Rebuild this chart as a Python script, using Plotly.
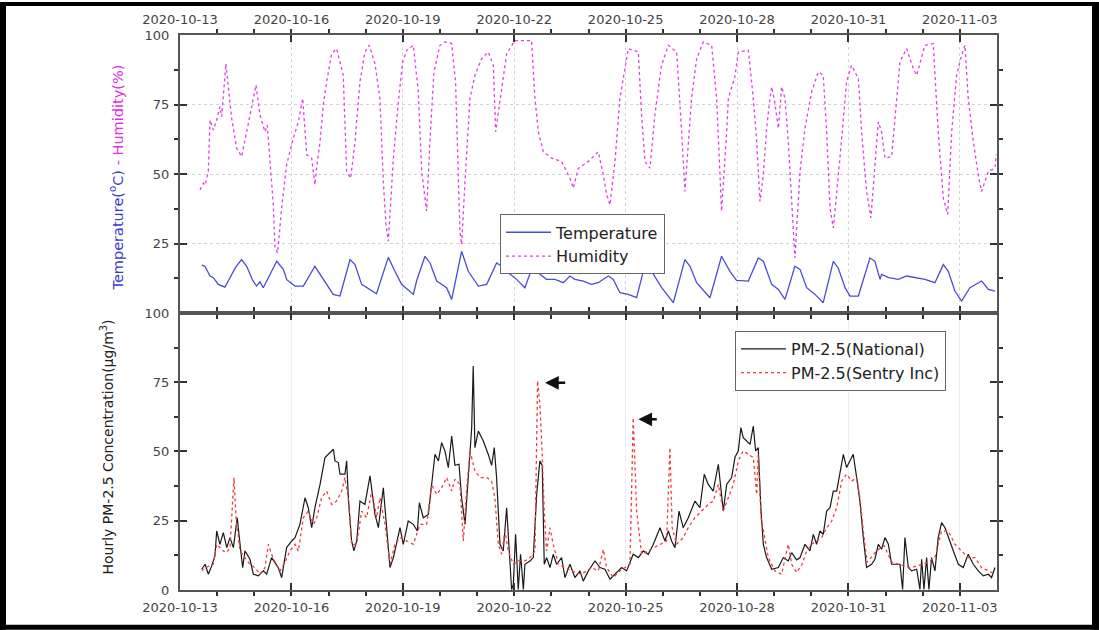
import pandas as pd
import plotly.graph_objects as go

# ---------------- data (hours after 2020-10-13 00:00, values) ----------------
start_time = "2020-10-13 00:00"

temp_hours = [14, 16, 19.4, 21.5, 24.8, 29, 32.3, 36, 39.8, 43.1, 47, 49.5, 51.7, 53.8, 57.1, 62.5, 66.8, 69,
              74.3, 79.7, 87.2, 92.6, 99, 103.4, 106.6, 109.9, 113.1, 117.4, 127, 130.3, 134.6, 138.9, 143.2,
              150.8, 152.9, 158.3, 161.6, 165.9, 172.3, 175.6, 182, 186.3, 192.8, 198.2, 204.6, 208, 212.2,
              217.5, 222.9, 228.3, 232.6, 236.9, 242.3, 247.7, 252, 255.2, 260.6, 266, 270.3, 276.8, 280,
              284.3, 289.7, 295.1, 300.5, 304.8, 311.3, 318.8, 326.3, 329.6, 333.9, 342.5, 350, 355.4, 359.7,
              367.3, 373.7, 377, 382.4, 386.7, 391, 397.4, 400.7, 405, 410.4, 415.7, 422.2, 425.4, 429.8, 433,
              438.4, 445.9, 449.1, 452.4, 453.4, 458, 464.2, 469.6, 476, 481.4, 487.9, 493.3, 496.5, 500.8,
              505.1, 510.5, 518.1, 522.4, 526.7]
temp_values = [17.2, 16.9, 13.3, 12.7, 10.3, 9.3, 12.7, 16.5, 19.2, 16.8, 11.7, 9.7, 11.2, 9.1, 12.7, 18.6, 15.7, 12,
               9.7, 9.7, 16.8, 12, 6.7, 6.1, 12.7, 19.2, 17.4, 10.3, 6.9, 12.7, 20, 15, 10.3,
               6.7, 11.5, 20.4, 18, 11.5, 9.1, 4.9, 22.2, 15, 9.7, 10.3, 18, 16.8, 14.5,
               12.1, 9.1, 17.4, 13.9, 12.1, 12.1, 10.9, 13.3, 12.1, 11.5, 10.3, 10.9, 13.3, 12.1,
               7.3, 6.7, 5.5, 17.4, 15, 9.1, 3.7, 19.2, 16.8, 10.9, 5.5, 20.4, 15, 11.7,
               11.5, 19.8, 18.6, 10.3, 8.5, 4.9, 16.8, 15.7, 9.1, 6.7, 3.7, 18.6, 16.2, 9.1, 6.1,
               6.1, 19.8, 18.6, 12.1, 13.9, 12.7, 12.1, 13.3, 12.7, 12.1, 10.9, 17.4, 15, 7.9,
               4.3, 9.1, 11.5, 8.5, 7.9]

hum_hours = [12.9, 15.1, 16.2, 18.3, 19.4, 21.5, 23.7, 25.8, 26.9, 28, 29.7, 31.2, 33.4, 36.6, 39.8, 43.1, 46.3,
             49.1, 51.7, 54.9, 56.4, 58.2, 60.3, 61.4, 63.1, 65.7, 68.9, 73.2, 76.5, 79.3, 81.9, 85.1, 87.2,
             88.3, 90.5, 92.6, 94.8, 98, 101.2, 105.5, 107.7, 110.3, 113.1, 116.3, 119.5, 122.3, 126, 129.2,
             131.4, 133.1, 134.6, 137.9, 141.1, 143.9, 146.5, 150.8, 154, 156.2, 159.4, 161.6, 164.1, 168,
             171.2, 175.5, 178.1, 180.9, 182, 184.2, 187.4, 190.6, 194.9, 199.2, 202.5, 204, 207.9, 211.1,
             216.5, 227.2, 229.4, 231.6, 234.8, 240.2, 246.6, 252, 254.2, 257.4, 263.9, 270.3, 273.6, 275.7,
             277.9, 281.1, 284.3, 287.6, 289.7, 296.2, 298.3, 300.5, 303.7, 306.9, 311.2, 315.6, 321, 324.2,
             326.3, 330.6, 333.9, 338.2, 343.6, 346.8, 350, 353.3, 354.4, 358.6, 360.8, 367.3, 370.5, 372.7,
             374.8, 377, 379.1, 381.3, 382.4, 384.5, 386.7, 388.8, 391, 393.1, 395.3, 397.4, 400.7, 403.9,
             408.2, 412.5, 415.7, 417.9, 420.1, 422.2, 426.5, 430.8, 434, 438.4, 440.5, 443.7, 446.5, 449.1,
             451.3, 453.4, 455.6, 459.9, 463.1, 465.3, 469.6, 473.9, 476.1, 481.4, 486.8, 490, 493.3, 496.1,
             498.7, 501.9, 505.1, 507.3, 509.4, 512.7, 515.9, 518, 522.4, 526.7, 527.5]
hum_values = [44.3, 46.7, 46, 50.9, 69.4, 65.8, 69.4, 74.2, 70.6, 79.6, 89.7, 81.4, 70, 59.3, 56.3, 65.2, 74.8,
              82, 71.2, 65.2, 67.6, 53.3, 38.9, 23.4, 21.6, 37.8, 53.3, 62.8, 68.8, 77.2, 56.9, 55.7, 46.1,
              52.1, 61.6, 74.8, 83.2, 93.3, 95.1, 85.5, 50.9, 48.5, 61.6, 83.2, 93.9, 96.3, 89.7, 77.2,
              47.3, 31.8, 25.8, 55.7, 76, 90.3, 94.5, 96.3, 79.6, 50.9, 36.6, 62.8, 86.7, 96.3,
              97.5, 97, 83, 29.4, 24.6, 47.3, 77.2, 85.5, 91.5, 93.9, 89, 65.2, 80.8, 93.3,
              98, 98, 77.2, 65.2, 58, 55.7, 54.5, 48.5, 44.9, 52, 54.5, 58, 49.7, 42.5,
              38.9, 54.5, 77.2, 89.1, 95.1, 93.9, 71.2, 54.5, 52.1, 71.2, 89.1, 96.3, 93.9, 65.2,
              43.7, 77.2, 91.5, 97.5, 96.3, 77.2, 36.6, 65.2, 77.2, 85, 93.9, 94.5, 77.2, 61.6,
              40.1, 49.7, 66.4, 77.2, 81.4, 75.4, 66.4, 81.4, 77.2, 61.6, 37.8, 19.8, 50.9, 66.4,
              79.6, 86.7, 85.5, 65.2, 37.8, 30.6, 55.7, 83.2, 89.1, 84.3, 65.2, 43.7, 34.2, 53.3,
              68.8, 65.2, 55.7, 56.3, 74.8, 90.3, 95.1, 87.9, 85.5, 96.3, 96.9, 65.2, 41.3, 35.4,
              65.2, 85.5, 92.7, 96.3, 77.2, 61.6, 49.7, 43.7, 50.9, 52.1, 57]

nat_hours = [14, 16.2, 18.3, 20.5, 22.6, 23.7, 25.8, 28, 30.2, 32.3, 34.5, 37, 38.8, 40.5, 42, 45.2, 47.4, 50.6,
             53.9, 56, 59.2, 61.4, 63.5, 65.7, 68.9, 72.2, 74.3, 77.5, 80.8, 82.9, 85.1, 87.2, 90.5, 93.7,
             95.9, 99.1, 100.2, 102.3, 103.4, 106.6, 107.7, 108.8, 110.9, 112.4, 114.2, 116.3, 119.5, 122.8,
             126, 128.2, 131.4, 133.5, 135.7, 137.9, 140, 142.2, 144.3, 147.5, 150.8, 153.4, 154.7, 157.2,
             160.5, 162.6, 164.8, 167, 169.1, 171.2, 173.4, 175.6, 177.7, 180.3, 182, 184.2, 186.3, 188.5,
             189.5, 190.6, 192.8, 196, 199.2, 201.4, 203.1, 204.6, 206.8, 208.9, 211.1, 212.8, 214.3, 215.4,
             216.9, 218.6, 220.1, 221.9, 222.9, 226.2, 228.3, 230.5, 232.6, 234.1, 235.4, 236.9, 239.1,
             241.2, 243.4, 246.6, 248.8, 252, 255.2, 258.5, 260.6, 263.9, 268.2, 271.4, 274.6, 277.9, 281.1,
             285.4, 288.6, 292.9, 296.2, 299.4, 302.6, 305.9, 310.2, 313.4, 315.6, 317.7, 319.9, 322.5,
             325.2, 328.5, 332.8, 336, 338.8, 341.4, 344.6, 347.9, 351.1, 353.3, 356.5, 358.7, 360.8, 362.5,
             364, 366.2, 368.4, 370.5, 372, 373.7, 375.5, 377, 379.1, 382.4, 386.7, 389.9, 393.1, 395.3,
             398.5, 400.7, 403.9, 407.1, 409.3, 411.4, 413.6, 415.7, 417.9, 420.1, 422.2, 424.4, 426.5,
             428.7, 430.8, 433, 435.1, 437.3, 439.4, 441.6, 443.7, 447, 449.1, 451.3, 453.4, 455.6, 457.8,
             459.9, 463.1, 465.3, 467, 468.5, 470.7, 472.8, 476.1, 478.2, 479.3, 480.8, 482.5, 484, 485.7,
             487.9, 490, 492.2, 494.4, 496.5, 499.8, 503, 506.2, 509.4, 512.7, 515.9, 519.1, 522.4, 524.5,
             526.7]
nat_values = [7.5, 9.3, 5.7, 8.7, 12.3, 21.3, 16.5, 20.7, 15.3, 18.9, 15.3, 26.1, 16.5, 8.1, 14.1, 11.1, 5.7, 5.1,
              6.9, 5.7, 11.7, 10, 8.1, 4.5, 15.3, 17.7, 18.9, 23.7, 33.3, 29.7, 22.5, 29.7, 38.1, 47.8,
              49, 50.8, 46.6, 46, 41.8, 41.8, 46.6, 33.3, 17.7, 14.1, 17.7, 32.1, 30.9, 41.2,
              27.3, 22.5, 36.9, 22.5, 8.1, 11.7, 16.5, 22.5, 16.5, 24.9, 23.7, 21.3, 31.5, 26.1,
              27.3, 38.1, 49, 46.6, 53.2, 50.2, 44.2, 55.6, 45, 45.4, 33.3, 23.7, 40.6, 58.6,
              80.9, 51.4, 57.4, 53.8, 49, 45, 51.4, 40.6, 16.5, 14.1, 29.7, 14.1, 0.2, 2,
              20.1, 0.2, 12.9, 0.2, 9.3, 10.5, 11.7, 34.5, 46.6, 45, 9.3, 11.7, 8.1,
              12.9, 9.3, 11.7, 4.5, 9.3, 4.5, 6.9, 3.2, 6.9, 10.5, 8.1, 7.5, 3.9, 5.7,
              8.1, 6.9, 12.9, 11.7, 14.1, 12.9, 16.5, 22.5, 17.7, 21.3, 17.7, 15.3, 28.5,
              22.5, 26.1, 32.1, 29.7, 41.8, 38.1, 35.7, 45.4, 28.5, 38.1, 40.6, 48, 50.2, 58.6,
              55, 53.8, 52.6, 59.2, 50.2, 51.4, 28.5, 16.5, 11.7, 7.5, 8.1, 11.7, 10.5, 13.5,
              10.9, 11.7, 16.5, 14.1, 20.1, 16.5, 21.3, 20.1, 28.5, 29.7, 35.7, 35.7, 43,
              49, 44.2, 46.6, 49, 40.6, 32.1, 18.9, 8.1, 9.3, 11.1, 16.5, 14.7, 18.9, 16.5,
              9.3, 9.3, 9.3, 0.2, 18.9, 8.1, 6.9, 7.5, 0.2, 11.1, 0.2, 11.7, 0.2, 11.7,
              6.9, 18.9, 24.3, 22.5, 18.9, 14.1, 9.3, 8.1, 12.9, 9.3, 6.9, 5.1, 5.7, 4.5,
              8.1]

sen_hours = [14, 16.2, 21.5, 23.7, 28, 30.2, 32.3, 34.9, 36.2, 38.8, 42, 45.2, 48.5, 51.7, 54.9, 57.1, 59.2, 61.4,
             64.6, 67.8, 71.1, 74.3, 76.5, 79.7, 82.9, 86.2, 88.3, 91.5, 94.8, 98, 101.2, 104.5, 106.6, 108.8,
             110.9, 114.2, 117.4, 120.6, 123.9, 127.1, 129.2, 132.5, 135.7, 138.9, 142.2, 146.5, 150.8, 155.1,
             159.4, 162.6, 165.9, 169.1, 172.3, 175.6, 177.7, 180.9, 183.1, 185.2, 187.4, 190.6, 193.9, 198.2,
             201.4, 203.5, 205.7, 207.9, 210, 212.2, 215.4, 218.6, 222.9, 226.2, 229.4, 231.1, 232.6, 234.1,
             235.4, 236.9, 239.1, 241.2, 244.5, 248.8, 253.1, 259.5, 266, 270.3, 273.6, 275.7, 280, 284.3,
             287.6, 290.8, 292.9, 295.1, 298.3, 302.6, 306.9, 311.2, 314.5, 316.6, 318.1, 320.9, 325.2, 328.5,
             332.8, 337.1, 341.4, 344.6, 347.9, 351.1, 354.3, 357.6, 360.8, 364, 367.3, 370.5, 372.7, 373.7,
             375.5, 378, 380.2, 384.5, 388.8, 393.1, 395.3, 398.5, 401.8, 405, 408.2, 411.4, 414.7, 417.9,
             421.1, 424.4, 427.6, 430.8, 434.1, 437.3, 439.4, 441.6, 444, 450, 455, 460, 466, 472, 478, 484,
             488, 492.2, 496.5, 500.8, 505.1, 509.4, 513.7, 518, 522.4, 526.7]
sen_values = [6.9, 8, 9.3, 16.5, 14.1, 13.5, 15.3, 40.6, 26.1, 14.1, 11.7, 9.3, 8, 5.7, 8, 16.5, 12.9, 10,
              6.9, 10, 14.1, 16.5, 14, 26.1, 28.5, 23.7, 26, 33.3, 35.7, 30.9, 32.1, 35.7, 40.6, 33,
              16.5, 16.5, 28.5, 26.1, 35.7, 26.1, 33.3, 23.7, 9.3, 16.5, 18.9, 17.7, 16.5, 23.7,
              23.7, 38.1, 34.5, 36.9, 40.6, 35.7, 40, 38.1, 17.7, 35.7, 50.2, 43, 40.6, 40.6,
              39.3, 33.3, 16.5, 12.9, 21.3, 14.1, 9.3, 10.5, 10.5, 11.7, 14.1, 75.5, 67, 49,
              28.5, 14.1, 22.5, 16.5, 9.3, 8.1, 6.9, 5.7, 8.1, 6.9, 14.7, 8.1, 4.5, 6.9,
              8.1, 9.3, 62.2, 28.5, 12.9, 14.1, 15.3, 16.5, 17.7, 51.4, 22.5, 16.5, 18.9, 22.5,
              26.1, 28.5, 30.9, 32.1, 38.1, 28.5, 33.3, 38.1, 46.6, 50.2, 49, 47.8, 34.5, 49,
              26.1, 17.7, 11.7, 6.9, 5.7, 16.5, 9.3, 6.3, 9, 14.1, 16.5, 17.7, 18.9, 22.5,
              24.9, 29.7, 39.3, 41.8, 39.3, 40.6, 33.3, 21.3, 10, 14, 16, 10, 9, 8, 9, 10,
              12, 21.3, 21.3, 16.5, 14.1, 11.7, 11.7, 8.1, 6.9, 5.7]

# arrows (hours, value) tip -> tail
arrow_tips = [(235.9, 74.8), (296.2, 61.6)]
arrow_tails = [(249.9, 74.8), (309.1, 61.6)]

top_y_ticks = [25, 50, 75, 100]
bottom_y_ticks = [0, 25, 50, 75, 100]

# ---------------- helpers ----------------
t0 = pd.Timestamp(start_time)


def to_time(hours):
    return [t0 + pd.Timedelta(hours=h) for h in hours]


def tstr(h):
    return (t0 + pd.Timedelta(hours=h)).strftime("%Y-%m-%d %H:%M:%S")


W, H = 1099, 630
ML, MR, MT, MB = 180, 102, 33, 40
PW, PH = W - ML - MR, H - MT - MB


def px(xp):
    return (xp - ML) / PW


def py(yp):
    return 1 - (yp - MT) / PH


split = py(312)

fig = go.Figure()
fig.add_trace(go.Scatter(x=to_time(temp_hours), y=temp_values, mode="lines", name="Temperature",
                         line=dict(color="#4b4bd8", width=1.3), xaxis="x", yaxis="y", legend="legend"))
fig.add_trace(go.Scatter(x=to_time(hum_hours), y=hum_values, mode="lines", name="Humidity",
                         line=dict(color="#e040e0", width=1.3, dash="3px,3px"), xaxis="x", yaxis="y",
                         legend="legend"))
fig.add_trace(go.Scatter(x=to_time(nat_hours), y=nat_values, mode="lines", name="PM-2.5(National)",
                         line=dict(color="#1a1a1a", width=1.2), xaxis="x2", yaxis="y2", legend="legend2"))
fig.add_trace(go.Scatter(x=to_time(sen_hours), y=sen_values, mode="lines", name="PM-2.5(Sentry Inc)",
                         line=dict(color="#f03c3c", width=1.3, dash="3px,3px"), xaxis="x2", yaxis="y2",
                         legend="legend2"))

tickfont = dict(family="DejaVu Sans", size=13, color="#444")
xrange = [tstr(0), tstr(22 * 24)]
common_x = dict(type="date", range=xrange, tick0=tstr(0), dtick=3 * 86400000, tickformat="%Y-%m-%d",
                showline=True, linecolor="#555", linewidth=2, mirror="ticks", ticks="inside", ticklen=7,
                tickwidth=1.5, tickcolor="#333", tickfont=tickfont, ticklabelstandoff=4,
                minor=dict(dtick=86400000, ticklen=4, tickwidth=1.5, tickcolor="#333", showgrid=False),
                zeroline=False)
common_y = dict(range=[0, 100], tickmode="array", showline=True, linecolor="#555",
                linewidth=2, mirror="ticks", ticks="inside", ticklen=7, tickwidth=1.5, tickcolor="#333",
                tickfont=tickfont, ticklabelstandoff=6, zeroline=False,
                minor=dict(tickmode="linear", tick0=0, dtick=12.5, ticklen=4, tickwidth=1.5, tickcolor="#333",
                           showgrid=False))

legend_font = dict(family="DejaVu Sans", size=16, color="#222")
fig.update_layout(
    width=W, height=H, autosize=False,
    margin=dict(l=ML, r=MR, t=MT, b=MB),
    paper_bgcolor="white", plot_bgcolor="white",
    font=dict(family="DejaVu Sans", color="#333"),
    xaxis=dict(common_x, side="top", anchor="y", showgrid=True, gridcolor="#d4d4d4", griddash="dot",
               gridwidth=1),
    yaxis=dict(common_y, domain=[split, 1], anchor="x", tickvals=top_y_ticks, showgrid=True,
               gridcolor="#d4d4d4", griddash="dot", gridwidth=1),
    xaxis2=dict(common_x, side="bottom", anchor="y2", matches="x", showgrid=True, gridcolor="#eeeeee",
                gridwidth=1),
    yaxis2=dict(common_y, domain=[0, split], anchor="x2", tickvals=bottom_y_ticks, showgrid=False),
    legend=dict(x=px(500), y=py(213), xanchor="left", yanchor="top", bgcolor="white", bordercolor="#666",
                borderwidth=1, font=legend_font, itemwidth=45, tracegroupgap=0),
    legend2=dict(x=px(735), y=py(330), xanchor="left", yanchor="top", bgcolor="white", bordercolor="#666",
                 borderwidth=1, font=legend_font, itemwidth=45, tracegroupgap=0),
    showlegend=True,
)

annotations = [
    dict(text='<span style="color:#3c3cd0">Temperature(<sup>o</sup>C)</span>'
              '<span style="color:#e030e0"> - Humidity(%)</span>',
         xref="paper", yref="paper", x=px(117), y=py(176), xanchor="center", yanchor="middle",
         textangle=-90, showarrow=False, font=dict(family="DejaVu Sans", size=14.5)),
    dict(text="Hourly PM-2.5 Concentration(μg/m<sup>3</sup>)",
         xref="paper", yref="paper", x=px(107), y=py(447), xanchor="center", yanchor="middle",
         textangle=-90, showarrow=False, font=dict(family="DejaVu Sans", size=14, color="#222")),
]
for (th, tv), (ah, av) in zip(arrow_tips, arrow_tails):
    annotations.append(dict(x=tstr(th), y=tv, xref="x2", yref="y2", ax=tstr(ah), ay=av, axref="x2",
                            ayref="y2", text="", showarrow=True, arrowhead=2, arrowsize=1.1, arrowwidth=2.5,
                            arrowcolor="#111"))
fig.update_layout(annotations=annotations)

# outer black frame of the picture
frame = [(0, 0, 6, H), (0, 0, W, 4), (1092, 0, W, H), (0, 625, W, H)]
shapes = []
for x0, y0, x1, y1 in frame:
    shapes.append(dict(type="rect", xref="paper", yref="paper", x0=px(x0), x1=px(x1), y0=py(y1), y1=py(y0),
                       fillcolor="black", line=dict(width=0), layer="above"))
fig.update_layout(shapes=shapes)

fig.write_html("out.html", config={"displayModeBar": False},
               post_script="document.body.style.margin='0px';document.body.style.overflow='hidden';")
